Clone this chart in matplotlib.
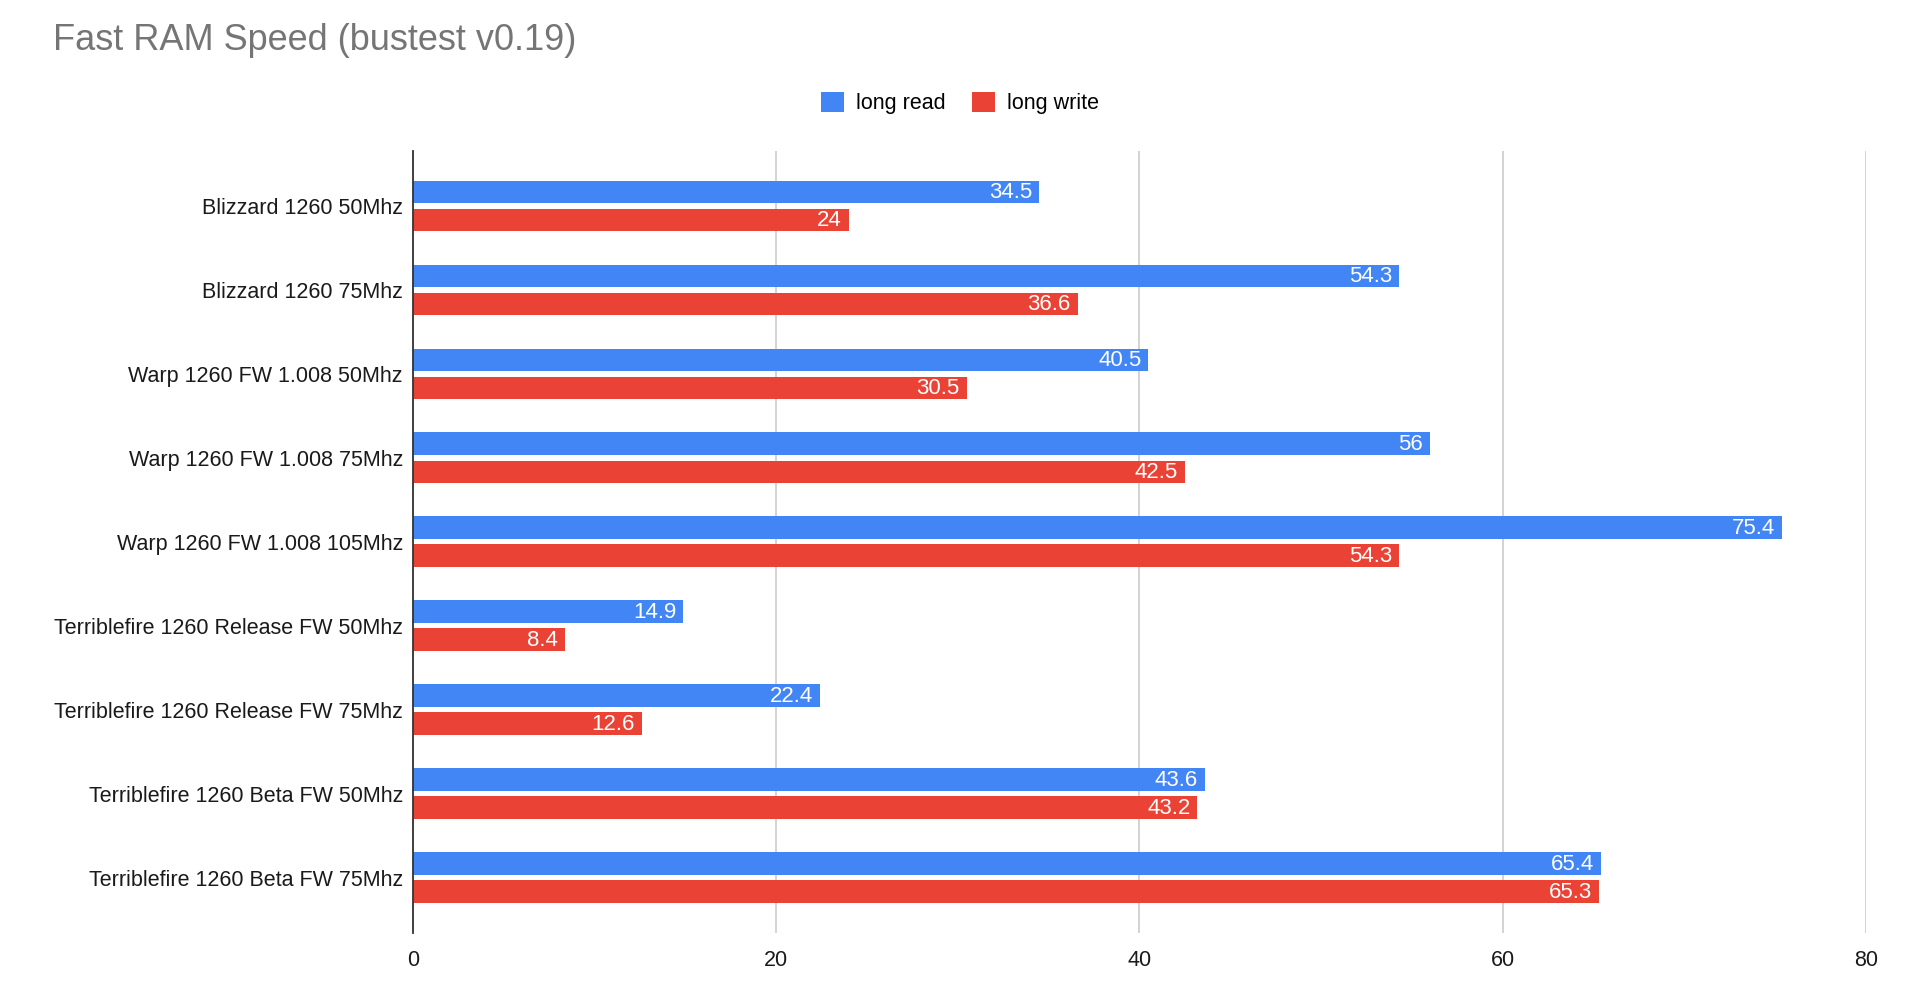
import numpy as np
import matplotlib
matplotlib.use('Agg')
import matplotlib.pyplot as plt
from matplotlib.patches import Patch

plt.rcParams['font.family'] = ['Liberation Sans', 'DejaVu Sans']

# 数据
categories = ['Blizzard 1260 50Mhz', 'Blizzard 1260 75Mhz', 'Warp 1260 FW 1.008 50Mhz',
              'Warp 1260 FW 1.008 75Mhz', 'Warp 1260 FW 1.008 105Mhz',
              'Terriblefire 1260 Release FW 50Mhz', 'Terriblefire 1260 Release FW 75Mhz',
              'Terriblefire 1260 Beta FW 50Mhz', 'Terriblefire 1260 Beta FW 75Mhz']
long_read = [34.5, 54.3, 40.5, 56, 75.4, 14.9, 22.4, 43.6, 65.4]
long_write = [24, 36.6, 30.5, 42.5, 54.3, 8.4, 12.6, 43.2, 65.3]
x_ticks = [0, 20, 40, 60, 80]

blue = '#4285F4'
red = '#EA4335'

fig = plt.figure(figsize=(19.2, 10.06), dpi=100)
ax = fig.add_axes([412.7 / 1920, 1 - 933 / 1006, (1866 - 412.7) / 1920, (933 - 150.6) / 1006])

y = np.arange(len(categories))
h = 0.27
off = 0.167
bars_r = ax.barh(y - off, long_read, height=h, color=blue, zorder=3)
bars_w = ax.barh(y + off, long_write, height=h, color=red, zorder=3)

# 数值标签
for bars, vals in [(bars_r, long_read), (bars_w, long_write)]:
    for b, v in zip(bars, vals):
        label = f'{v:g}'
        ax.annotate(label, xy=(v, b.get_y() + b.get_height() / 2), xytext=(-5, -0.5),
                    textcoords='offset points', ha='right', va='center',
                    color='white', fontsize=16, zorder=4)

ax.set_ylim(len(categories) - 1 + 0.66, -0.66)
ax.set_xlim(0, 80)
ax.set_yticks(y)
ax.set_yticklabels(categories, fontsize=15.5, color='#1a1a1a')
ax.set_xticks(x_ticks)
ax.set_xticklabels([str(t) for t in x_ticks], fontsize=15.5, color='#1a1a1a')
ax.tick_params(axis='both', length=0)
ax.tick_params(axis='y', pad=7)
ax.tick_params(axis='x', pad=12)

ax.grid(axis='x', color='#cccccc', linewidth=1.2, zorder=0)
for s in ['top', 'right', 'bottom']:
    ax.spines[s].set_visible(False)
ax.spines['left'].set_color('#333333')
ax.spines['left'].set_linewidth(1.3)
ax.spines['left'].set_zorder(5)

fig.text(53 / 1920, 1 - 40 / 1006, 'Fast RAM Speed (bustest v0.19)', fontsize=26,
         color='#757575', ha='left', va='center')

handles = [Patch(facecolor=blue, label='long read'), Patch(facecolor=red, label='long write')]
fig.legend(handles=handles, loc='center', bbox_to_anchor=(0.5, 1 - 103 / 1006), ncol=2,
           frameon=False, fontsize=15.5, handlelength=1.05, handleheight=1.05,
           handletextpad=0.55, columnspacing=1.25)

plt.savefig('out.png', dpi=100)
